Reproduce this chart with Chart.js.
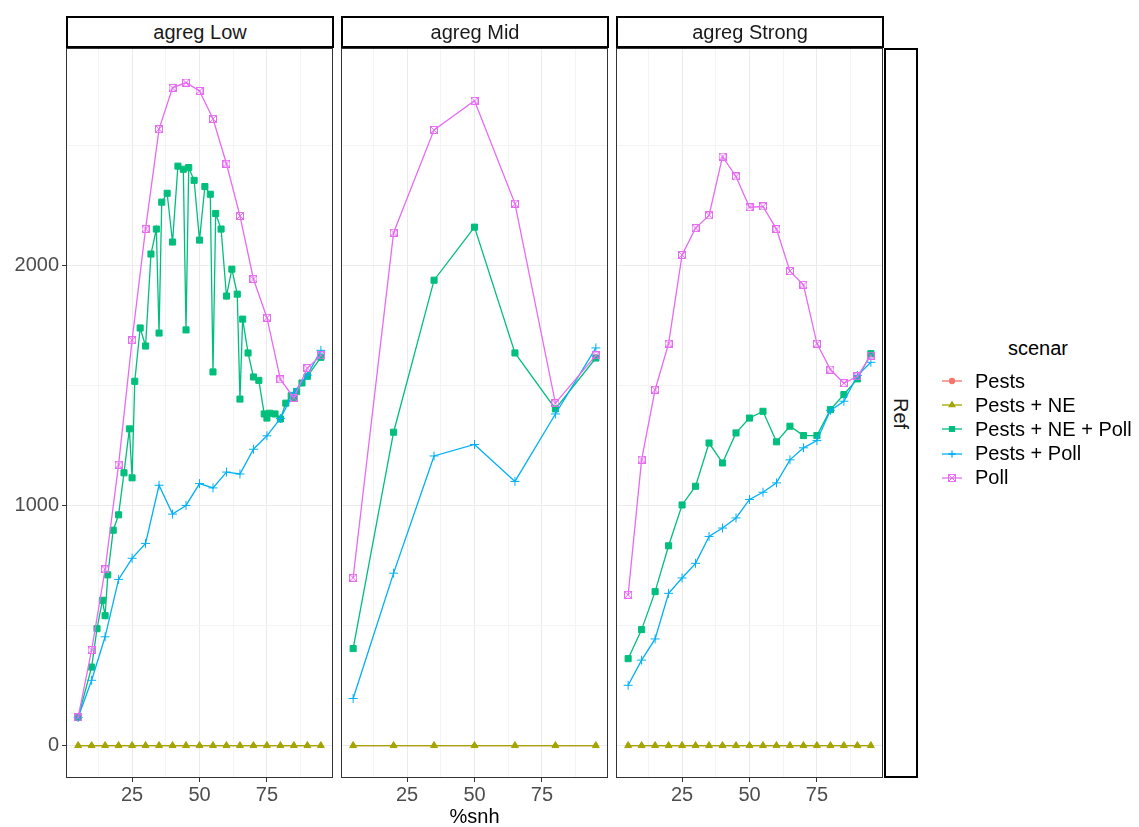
<!DOCTYPE html>
<html>
<head>
<meta charset="utf-8">
<script src="https://cdn.jsdelivr.net/npm/chart.js@4.4.1/dist/chart.umd.min.js"></script>
<style>
  body { margin: 0; width: 1139px; height: 827px; background: #fff; position: relative; overflow: hidden;
         font-family: "Liberation Sans", Arial, sans-serif; }
  canvas.panel { position: absolute; top: 46px; }
  .strip { position: absolute; box-sizing: border-box; border: 2px solid #000; background: #fff; color: #1a1a1a;
           font-size: 20px; display: flex; align-items: center; justify-content: center; }
  .strip.right span { transform: rotate(90deg); display: block; }
  #xtitle { position: absolute; left: 66px; width: 817px; top: 805px; text-align: center; font-size: 20px; color: #000; }
  #legend { position: absolute; left: 940px; top: 334px; color: #000; font-size: 20px; }
  #legend .title { margin-left: 68px; height: 35px; line-height: 28px; }
  #legend .row { display: flex; align-items: center; height: 24.2px; }
  #legend canvas { margin-right: 11px; }
</style>
</head>
<body>
<canvas id="pLow" class="panel" width="334" height="774" style="left:0px"></canvas>
<canvas id="pMid" class="panel" width="269" height="774" style="left:340px"></canvas>
<canvas id="pStrong" class="panel" width="269" height="774" style="left:615px"></canvas>

<div class="strip" style="left:66px; top:16px; width:268px; height:32px;">agreg Low</div>
<div class="strip" style="left:341px; top:16px; width:268px; height:32px;">agreg Mid</div>
<div class="strip" style="left:616px; top:16px; width:268px; height:32px;">agreg Strong</div>
<div class="strip right" style="left:884px; top:48px; width:34px; height:730px;"><span>Ref</span></div>
<div id="xtitle">%snh</div>
<div id="legend"><div class="title">scenar</div></div>

<script>
// scenarios and colours (ggplot hue palette)
const scenarios = ['Pests', 'Pests + NE', 'Pests + NE + Poll', 'Pests + Poll', 'Poll'];
const colors = ['#F8766D', '#A3A500', '#00BF7D', '#00B0F6', '#E76BF3'];

// x values (%snh)
const snhStep5 = [5, 10, 15, 20, 25, 30, 35, 40, 45, 50, 55, 60, 65, 70, 75, 80, 85, 90, 95];
const snhLowNEPoll = [5, 10, 12, 14, 15, 16, 18, 20, 22, 24, 25, 26, 28, 30, 32, 34, 35, 36, 38, 40,
  42, 44, 45, 46, 48, 50, 52, 54, 55, 56, 58, 60, 62, 64, 65, 66, 68, 70, 72, 74, 75, 76, 78, 80,
  82, 84, 85, 86, 88, 90, 95];
const snhMid = [5, 20, 35, 50, 65, 80, 95];

// agreg Low
const lowPests = [0, 0, 0, 0, 0, 0, 0, 0, 0, 0, 0, 0, 0, 0, 0, 0, 0, 0, 0];
const lowPestsNE = [0, 0, 0, 0, 0, 0, 0, 0, 0, 0, 0, 0, 0, 0, 0, 0, 0, 0, 0];
const lowPestsNEPoll = [117, 327, 487, 605, 541, 711, 897, 961, 1136, 1319, 1115, 1517, 1739, 1664, 2047, 2151, 1718, 2263, 2300, 2097,
  2413, 2400, 1731, 2407, 2354, 2105, 2328, 2296, 1556, 2216, 2151, 1872, 1984, 1880, 1443, 1776, 1635, 1535, 1521, 1381, 1364, 1384, 1381, 1360,
  1426, 1457, 1450, 1474, 1510, 1538, 1617];
const lowPestsPoll = [117, 272, 453, 692, 780, 842, 1084, 964, 1000, 1091, 1073, 1139, 1131, 1234, 1290, 1362, 1471, 1543, 1646];
const lowPoll = [117, 398, 734, 1170, 1688, 2152, 2567, 2739, 2761, 2726, 2610, 2423, 2206, 1943, 1782, 1525, 1448, 1572, 1625];

// agreg Mid
const midPests = [0, 0, 0, 0, 0, 0, 0];
const midPestsNE = [0, 0, 0, 0, 0, 0, 0];
const midPestsNEPoll = [404, 1305, 1938, 2159, 1635, 1402, 1614];
const midPestsPoll = [196, 718, 1206, 1254, 1100, 1381, 1656];
const midPoll = [699, 2136, 2564, 2685, 2257, 1426, 1625];

// agreg Strong
const strongPests = [0, 0, 0, 0, 0, 0, 0, 0, 0, 0, 0, 0, 0, 0, 0, 0, 0, 0, 0];
const strongPestsNE = [0, 0, 0, 0, 0, 0, 0, 0, 0, 0, 0, 0, 0, 0, 0, 0, 0, 0, 0];
const strongPestsNEPoll = [362, 483, 641, 832, 1002, 1080, 1260, 1177, 1302, 1364, 1392, 1265, 1330, 1291, 1291, 1399, 1462, 1527, 1632];
const strongPestsPoll = [251, 356, 444, 634, 698, 759, 871, 906, 948, 1025, 1055, 1094, 1190, 1240, 1270, 1396, 1434, 1541, 1596];
const strongPoll = [628, 1191, 1482, 1674, 2043, 2155, 2208, 2453, 2370, 2242, 2245, 2151, 1976, 1919, 1674, 1566, 1509, 1538, 1624];

// ticks
const xTicks = [12.5, 25, 37.5, 50, 62.5, 75, 87.5];
const xLabels = [25, 50, 75];
const yTicks = [0, 500, 1000, 1500, 2000, 2500];
const yLabels = [0, 1000, 2000];

Chart.defaults.font.family = '"Liberation Sans", Arial, sans-serif';

// boxed-X marker (ggplot shape 7)
function boxX(size, color) {
    const c = document.createElement('canvas');
    c.width = c.height = size;
    const g = c.getContext('2d');
    g.strokeStyle = color;
    g.lineWidth = 1;
    g.strokeRect(0.5, 0.5, size - 1, size - 1);
    g.beginPath();
    g.moveTo(1, 1); g.lineTo(size - 1, size - 1);
    g.moveTo(size - 1, 1); g.lineTo(1, size - 1);
    g.stroke();
    return c;
}

const pointStyles = ['circle', 'triangle', 'rect', 'cross', boxX(8, colors[4])];
const pointRadii = [2, 4, 4.3, 4.5, 4];

const panelBorder = {
    id: 'panelBorder',
    afterDatasetsDraw(chart) {
        const a = chart.chartArea, g = chart.ctx;
        g.save();
        g.strokeStyle = '#333333';
        g.lineWidth = 1;
        g.strokeRect(Math.round(a.left) + 0.5, Math.round(a.top) + 0.5,
            Math.round(a.right - a.left) - 1, Math.round(a.bottom - a.top) - 1);
        g.restore();
    }
};

function makePanel(id, xsList, ysList, showY) {
    const datasets = scenarios.map((name, i) => ({
        label: name,
        data: xsList[i].map((x, k) => ({ x: x, y: ysList[i][k] })),
        borderColor: colors[i],
        backgroundColor: colors[i],
        borderWidth: 1.3,
        pointStyle: pointStyles[i],
        pointRadius: pointRadii[i],
        pointBorderWidth: 1,
        pointBackgroundColor: colors[i],
        pointBorderColor: colors[i],
        tension: 0,
        order: 5 - i
    }));

    new Chart(document.getElementById(id), {
        type: 'line',
        data: { datasets },
        plugins: [panelBorder],
        options: {
            responsive: false,
            animation: false,
            events: [],
            layout: { autoPadding: false, padding: { top: 2, left: showY ? 0 : 1, right: 1, bottom: 0 } },
            plugins: { legend: { display: false }, tooltip: { enabled: false } },
            scales: {
                x: {
                    type: 'linear',
                    min: 0.5,
                    max: 99.5,
                    afterBuildTicks: s => { s.ticks = xTicks.map(v => ({ value: v })); },
                    afterFit: s => { s.height = 42; s.paddingLeft = 0; s.paddingRight = 0; },
                    border: { display: false },
                    grid: {
                        color: c => xLabels.includes(c.tick && c.tick.value) ? '#EBEBEB' : '#F4F4F4',
                        tickColor: c => xLabels.includes(c.tick && c.tick.value) ? '#333333' : 'rgba(0,0,0,0)',
                        tickLength: 4
                    },
                    ticks: {
                        autoSkip: false,
                        maxRotation: 0,
                        padding: 1,
                        color: '#4D4D4D',
                        font: { size: 20 },
                        callback: v => xLabels.includes(v) ? String(v) : ''
                    }
                },
                y: {
                    min: -135,
                    max: 2905,
                    afterBuildTicks: s => { s.ticks = yTicks.map(v => ({ value: v })); },
                    afterFit: s => { s.width = showY ? 66 : 0; s.paddingTop = 0; s.paddingBottom = 0; },
                    border: { display: false },
                    grid: {
                        color: c => yLabels.includes(c.tick && c.tick.value) ? '#EBEBEB' : '#F4F4F4',
                        tickColor: c => yLabels.includes(c.tick && c.tick.value) ? '#333333' : 'rgba(0,0,0,0)',
                        tickLength: 4,
                        drawTicks: showY
                    },
                    ticks: {
                        display: showY,
                        padding: 3,
                        color: '#4D4D4D',
                        font: { size: 20 },
                        callback: v => yLabels.includes(v) ? String(v) : ''
                    }
                }
            }
        }
    });
}

makePanel('pLow',
    [snhStep5, snhStep5, snhLowNEPoll, snhStep5, snhStep5],
    [lowPests, lowPestsNE, lowPestsNEPoll, lowPestsPoll, lowPoll], true);
makePanel('pMid',
    [snhMid, snhMid, snhMid, snhMid, snhMid],
    [midPests, midPestsNE, midPestsNEPoll, midPestsPoll, midPoll], false);
makePanel('pStrong',
    [snhStep5, snhStep5, snhStep5, snhStep5, snhStep5],
    [strongPests, strongPestsNE, strongPestsNEPoll, strongPestsPoll, strongPoll], false);

// legend
const legend = document.getElementById('legend');
scenarios.forEach((name, i) => {
    const row = document.createElement('div');
    row.className = 'row';
    const key = document.createElement('canvas');
    key.width = 24; key.height = 20;
    const g = key.getContext('2d');
    g.strokeStyle = colors[i];
    g.lineWidth = 1.3;
    g.beginPath(); g.moveTo(2, 10); g.lineTo(22, 10); g.stroke();
    g.fillStyle = colors[i];
    Chart.helpers.drawPoint(g, { pointStyle: pointStyles[i], radius: Math.max(pointRadii[i] * 0.8, 2.5), rotation: 0, borderWidth: 1 }, 12, 10);
    g.fill();
    const label = document.createElement('span');
    label.textContent = name;
    row.appendChild(key);
    row.appendChild(label);
    legend.appendChild(row);
});
</script>
</body>
</html>
